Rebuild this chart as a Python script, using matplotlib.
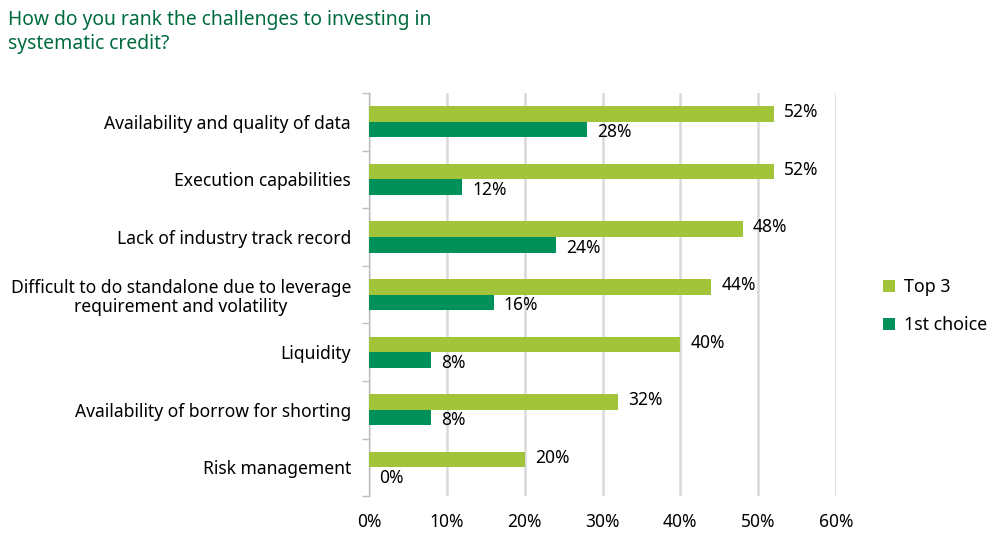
import matplotlib.pyplot as plt
import numpy as np

plt.rcParams['font.family'] = ['Noto Sans', 'DejaVu Sans']

categories = ['Availability and quality of data',
              'Execution capabilities',
              'Lack of industry track record',
              'Difficult to do standalone due to leverage\nrequirement and volatility',
              'Liquidity',
              'Availability of borrow for shorting',
              'Risk management']
top3 = [52, 52, 48, 44, 40, 32, 20]
first_choice = [28, 12, 24, 16, 8, 8, 0]
xticks = [0, 10, 20, 30, 40, 50, 60]

light = '#A2C43A'
dark = '#00905A'

fig = plt.figure(figsize=(10.03, 5.44), dpi=100)
ax = fig.add_axes([0.368, 0.088, 0.4655, 0.741])

y = np.arange(len(categories))
h = 0.27
ax.barh(y - h/2, top3, height=h, color=light, label='Top 3', zorder=3)
ax.barh(y + h/2, first_choice, height=h, color=dark, label='1st choice', zorder=3)

for yi, v in zip(y, top3):
    ax.text(v + 1.3, yi - h/2 - 0.03, f'{v}%', va='center', ha='left', fontsize=12.5, color='black')
for yi, v in zip(y, first_choice):
    ax.text(v + 1.3, yi + h/2 + 0.05, f'{v}%', va='center', ha='left', fontsize=12.5, color='black')

ax.set_xlim(0, 60)
ax.set_ylim(len(categories) - 0.5, -0.5)
ax.set_xticks(xticks)
ax.set_xticklabels([f'{t}%' for t in xticks], fontsize=12.5)
ax.set_yticks(y)
ax.set_yticklabels(categories, fontsize=12.6, linespacing=1.1)
for lbl in ax.get_yticklabels():
    lbl.set_multialignment('center')
ax.set_yticks(np.arange(len(categories) + 1) - 0.5, minor=True)
ax.tick_params(axis='y', which='major', length=0, pad=13)
ax.tick_params(axis='y', which='minor', length=5, color='#BFBFBF', width=1)
ax.tick_params(axis='x', length=0, pad=12)
ax.xaxis.grid(True, color='#D9D9D9', linewidth=1.8, zorder=0)
for s in ['top', 'right', 'bottom']:
    ax.spines[s].set_visible(False)
ax.spines['left'].set_color('#BFBFBF')
ax.spines['left'].set_linewidth(1)

fig.text(0.008, 0.982, 'How do you rank the challenges to investing in\nsystematic credit?',
         fontsize=13.9, color='#006B3F', va='top', ha='left', linespacing=1.3)

fig.legend(loc='center left', bbox_to_anchor=(0.864, 0.437), frameon=False,
           fontsize=12.8, handlelength=0.7, handleheight=0.7, labelspacing=1.1,
           handletextpad=0.5)

fig.savefig('out.png', dpi=100)
